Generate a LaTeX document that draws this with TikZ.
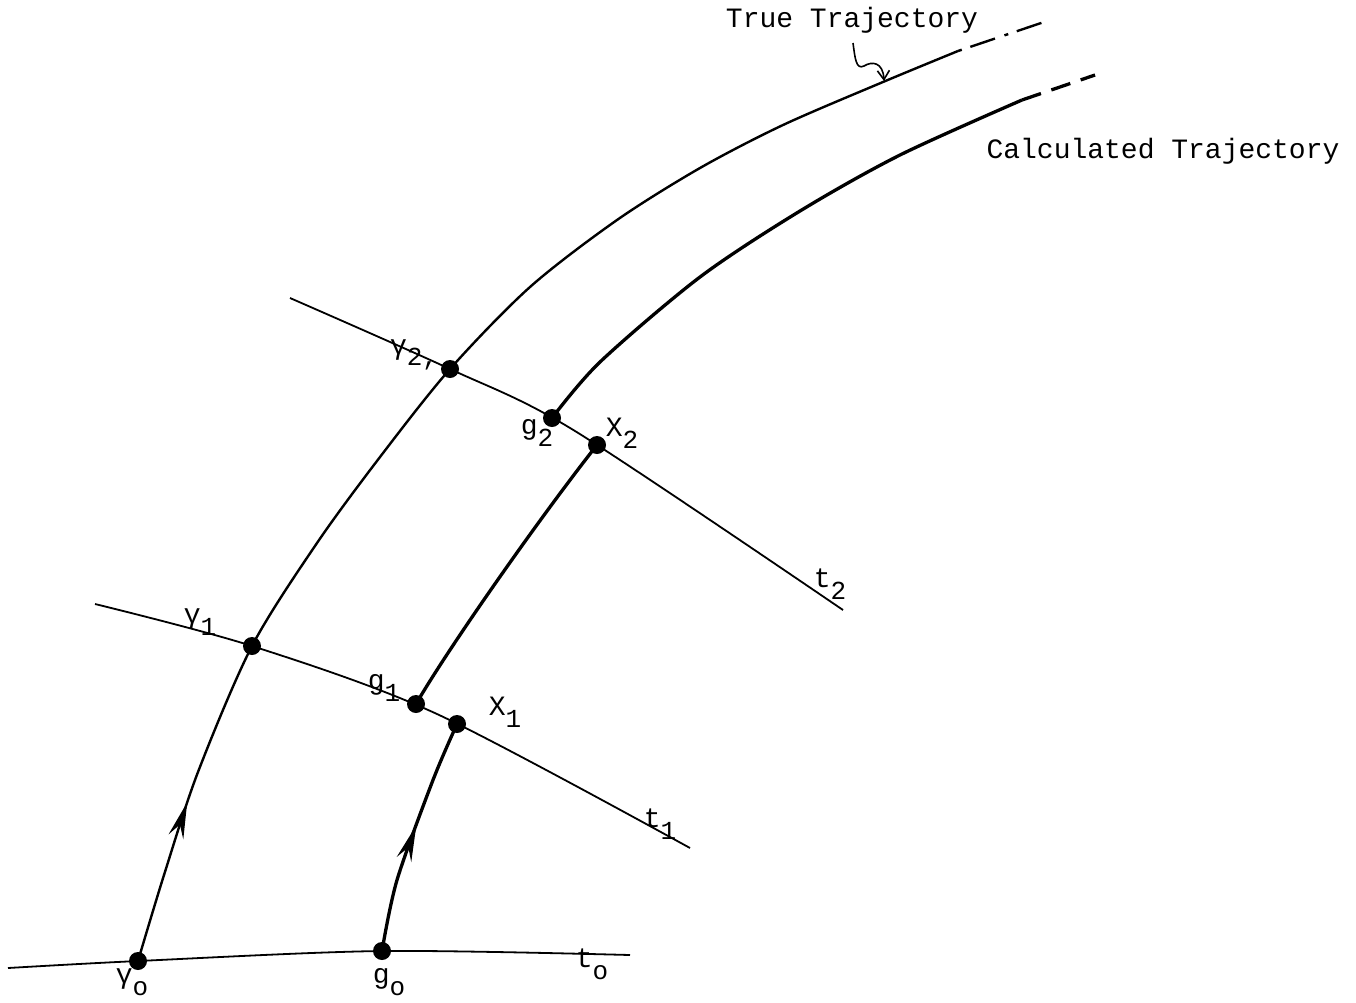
\documentclass[tikz,border=0pt]{standalone}
\usepackage{fontspec}
\setmainfont{Liberation Mono}
\usetikzlibrary{arrows.meta}
\newcommand\lab[2]{#1\raisebox{-0.42em}{\fontsize{26}{26}\selectfont #2}}
\begin{document}
\begin{tikzpicture}[x=1pt,y=-1pt,
  timeline/.style={line width=1.8pt},
  truetraj/.style={line width=2.4pt},
  calctraj/.style={line width=3.3pt},
  dot/.style={circle,fill=black,inner sep=0pt,minimum size=18pt},
  lbl/.style={font=\fontsize{28}{30}\selectfont, inner sep=0pt},
  flowtip/.style={line width=1.6pt, line join=miter, fill=black}]
\useasboundingbox (0,0) rectangle (1356,1002);
% key points
\coordinate (G0) at (138,961);
\coordinate (G1) at (252,646);
\coordinate (G2) at (450,369);
\coordinate (g0) at (382,951);
\coordinate (g1) at (416,704);
\coordinate (x1) at (457,724);
\coordinate (g2) at (552,418);
\coordinate (x2) at (597,445);
\coordinate (TE) at (958,51);
\coordinate (TD) at (1050,20);
\coordinate (CE) at (1022,100);
\coordinate (CD) at (1095,75);
% time curves
\draw[timeline] plot[smooth] coordinates {(8,968) (G0) (g0) (630,955)};
\draw[timeline] plot[smooth] coordinates {(95,604) (G1) (437,714) (690,848)};
\draw[timeline] plot[smooth] coordinates {(290,298) (G2) (575,431) (843,610)};
% true trajectory
\draw[truetraj] plot[smooth] coordinates {(G0) (164,875) (198,772) (G1) (317,543) (380,457) (G2) (530,287) (617,220) (700,168) (783,125) (883,82) (TE)};
\draw[truetraj, dash pattern=on 4pt off 9pt on 26pt off 10pt] (TE) -- (TD);
% calculated trajectory pieces
\draw[calctraj] plot[smooth] coordinates {(g0) (397,880) (433,780) (x1)};
\draw[calctraj] (g1) .. controls (452,642) and (547,508) .. (x2);
\draw[calctraj] plot[smooth] coordinates {(g2) (600,362) (700,277) (800,211) (900,155) (CE)};
\draw[calctraj, dash pattern=on 20pt off 11pt] (CE) -- (CD);
% flow arrow heads
\coordinate (T1) at (186,806);
\coordinate (T1a) at (171.6,830.7);
\coordinate (T1i) at (180.4,823.1);
\coordinate (T1b) at (183,834.5);
\coordinate (T2) at (415,829);
\coordinate (T2a) at (399.9,853.3);
\coordinate (T2i) at (408.9,845.9);
\coordinate (T2b) at (411.1,857.3);
\filldraw[flowtip] (T1) -- (T1a) -- (T1i) -- (T1b) -- cycle;
\filldraw[flowtip] (T2) -- (T2a) -- (T2i) -- (T2b) -- cycle;
% dots
\foreach \p in {G0,G1,G2,g0,g1,x1,g2,x2} \node[dot] (D\p) at (\p) {};
% labels
\node[lbl] (LG0) at (132,982) {\lab{γ}{o}};
\node[lbl] (Lg0) at (389,982) {\lab{g}{o}};
\node[lbl] (Lt0) at (592,964) {\lab{t}{o}};
\node[lbl] (LG1) at (200,622) {\lab{γ}{1}};
\node[lbl] (Lg1) at (384,688) {\lab{g}{1}};
\node[lbl] (Lx1) at (505,712) {\lab{X}{1}};
\node[lbl] (Lt1) at (660,824) {\lab{t}{1}};
\node[lbl] (LG2) at (414,355) {\lab{γ}{2,}};
\node[lbl] (Lg2) at (537,433) {\lab{g}{2}};
\node[lbl] (Lx2) at (622,433) {\lab{X}{2}};
\node[lbl] (Lt2) at (830,584) {\lab{t}{2}};
\node[lbl] (TT) at (852,20) {True Trajectory};
\node[lbl] (CT) at (1163,151) {Calculated Trajectory};
% squiggle pointer
\coordinate (SQ) at (853,43);
\coordinate (SQT) at (884,81);
\draw[line width=1.6pt, -{Straight Barb[length=9pt,width=12pt]}] (SQ) .. controls (855,58) and (856,70) .. (864,66) .. controls (872,61) and (883,62) .. (SQT);
\end{tikzpicture}
\end{document}
